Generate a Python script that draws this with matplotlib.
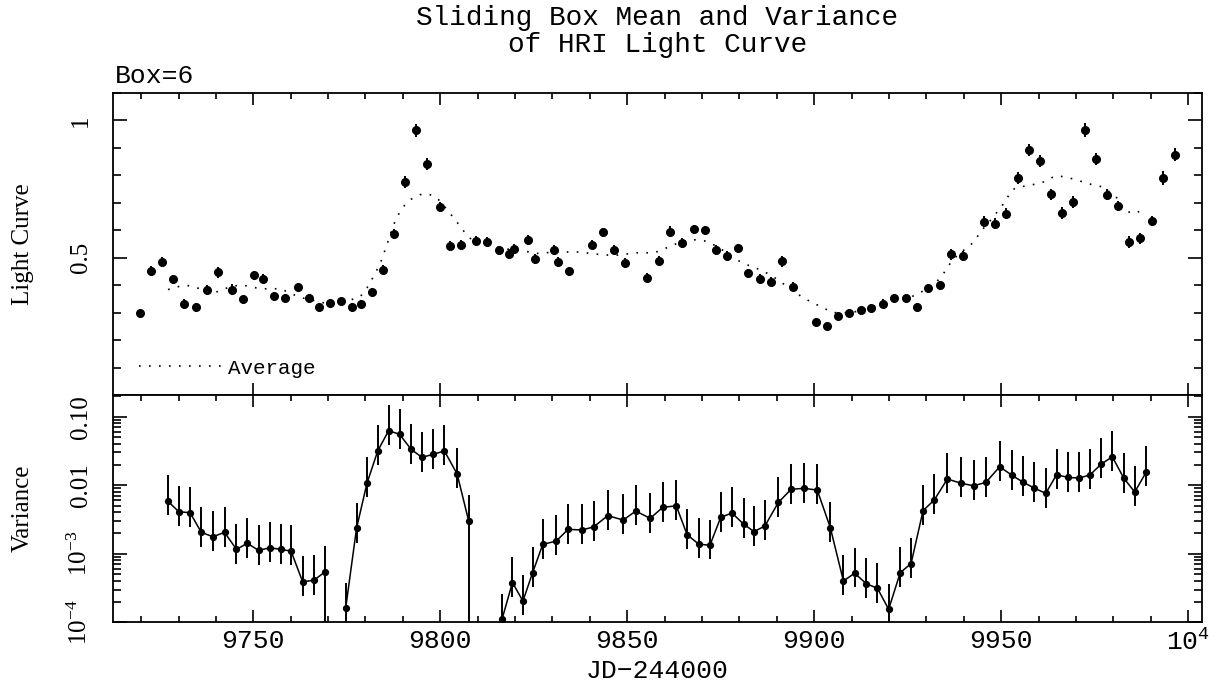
import numpy as np
import matplotlib
matplotlib.use("Agg")
import matplotlib.pyplot as plt
from matplotlib.ticker import MultipleLocator, FixedLocator, LogLocator, NullFormatter
from matplotlib.lines import Line2D

# light curve
lc_jd = [9719.7, 9722.7, 9725.5, 9728.5, 9731.6, 9734.6, 9737.5, 9740.5, 9744.3, 9747.3,
         9750.2, 9752.6, 9755.5, 9758.4, 9761.9, 9764.8, 9767.5, 9770.4, 9773.5, 9776.5,
         9778.8, 9781.8, 9784.6, 9787.7, 9790.7, 9793.5, 9796.4, 9799.8, 9802.7, 9805.5,
         9809.5, 9812.4,
         9815.6, 9818.5, 9819.8, 9823.5, 9825.4, 9830.4, 9831.4, 9834.4, 9840.5, 9843.4,
         9846.4, 9849.5, 9855.4, 9858.5, 9861.4, 9864.6, 9867.8, 9870.7, 9873.7, 9876.6,
         9879.5, 9882.4, 9885.4, 9888.4, 9891.4, 9894.3, 9900.4, 9903.3, 9906.3, 9909.3,
         9912.4, 9915.3, 9918.3, 9921.3, 9924.6, 9927.5, 9930.5, 9933.6, 9936.7, 9939.8,
         9945.4, 9948.3, 9951.4, 9954.4, 9957.4, 9960.4, 9963.4, 9966.3, 9969.3, 9972.3,
         9975.3, 9978.2, 9981.2, 9984.3, 9987.2, 9990.3, 9993.3, 9996.4]
lc_rate = [0.300, 0.453, 0.485, 0.421, 0.332, 0.320, 0.381, 0.447, 0.384, 0.348,
           0.436, 0.424, 0.360, 0.353, 0.394, 0.352, 0.320, 0.336, 0.341, 0.321,
           0.333, 0.375, 0.457, 0.588, 0.776, 0.964, 0.843, 0.685, 0.544, 0.548,
           0.560, 0.558,
           0.527, 0.514, 0.533, 0.566, 0.496, 0.529, 0.484, 0.451, 0.548, 0.593,
           0.529, 0.481, 0.428, 0.487, 0.594, 0.555, 0.604, 0.601, 0.529, 0.507,
           0.535, 0.445, 0.423, 0.413, 0.487, 0.395, 0.265, 0.253, 0.287, 0.300,
           0.308, 0.316, 0.333, 0.353, 0.352, 0.320, 0.389, 0.399, 0.512, 0.507,
           0.632, 0.624, 0.660, 0.790, 0.892, 0.853, 0.732, 0.662, 0.703, 0.965,
           0.861, 0.730, 0.689, 0.558, 0.571, 0.635, 0.790, 0.876]
lc_err = [0.012, 0.018, 0.018, 0.017, 0.016, 0.016, 0.018, 0.020, 0.020, 0.014,
          0.016, 0.016, 0.016, 0.016, 0.014, 0.015, 0.014, 0.015, 0.013, 0.015,
          0.014, 0.015, 0.018, 0.018, 0.022, 0.024, 0.022, 0.018, 0.018, 0.018,
          0.018, 0.016,
          0.016, 0.018, 0.018, 0.018, 0.018, 0.018, 0.018, 0.017, 0.016, 0.016,
          0.016, 0.018, 0.016, 0.018, 0.020, 0.017, 0.016, 0.016, 0.016, 0.018,
          0.016, 0.014, 0.018, 0.016, 0.020, 0.016, 0.014, 0.014, 0.014, 0.014,
          0.014, 0.014, 0.016, 0.016, 0.016, 0.016, 0.016, 0.018, 0.020, 0.018,
          0.020, 0.020, 0.020, 0.022, 0.022, 0.022, 0.020, 0.022, 0.022, 0.024,
          0.022, 0.020, 0.018, 0.022, 0.020, 0.018, 0.026, 0.022]

# sliding box (6) average, dotted curve
avg_jd = [9727.2, 9730.0, 9732.4, 9735.0, 9739.5, 9743.0, 9746.6, 9751.9, 9757.3, 9761.7,
          9764.5, 9767.1, 9769.8, 9774.2, 9778.6, 9780.4, 9782.2, 9784.0, 9785.8, 9787.5,
          9789.1, 9790.2, 9792.0, 9794.7, 9796.4, 9798.2, 9800.0, 9801.8, 9803.6, 9805.3,
          9807.1, 9808.9, 9810.7, 9812.5,
          9814.2, 9817.4, 9822.2, 9825.4, 9827.6, 9832.0, 9837.4, 9840.9, 9846.3, 9848.9,
          9852.5, 9856.9, 9859.0, 9861.4, 9864.9, 9868.5, 9871.2, 9873.9, 9876.6, 9879.2,
          9881.9, 9885.4, 9888.1, 9890.8, 9894.3, 9897.9, 9901.4, 9905.0, 9908.6, 9912.1,
          9914.8, 9919.2, 9921.9, 9924.6, 9928.1, 9931.7, 9934.4, 9937.0, 9940.2, 9942.4,
          9945.0, 9947.7, 9950.4, 9953.0, 9954.8, 9957.5, 9961.1, 9964.6, 9967.3, 9970.0,
          9973.5, 9977.1, 9980.6, 9983.3, 9986.0, 9988.2]
avg_rate = [0.384, 0.395, 0.399, 0.390, 0.372, 0.390, 0.402, 0.387, 0.387, 0.360,
            0.348, 0.342, 0.332, 0.338, 0.358, 0.390, 0.433, 0.481, 0.550, 0.620,
            0.665, 0.687, 0.712, 0.730, 0.733, 0.726, 0.706, 0.675, 0.645, 0.615,
            0.582, 0.560, 0.548, 0.542,
            0.542, 0.532, 0.526, 0.515, 0.518, 0.521, 0.521, 0.514, 0.508, 0.512,
            0.518, 0.518, 0.526, 0.542, 0.560, 0.566, 0.560, 0.542, 0.518, 0.493,
            0.475, 0.457, 0.439, 0.415, 0.378, 0.348, 0.324, 0.300, 0.300, 0.305,
            0.318, 0.336, 0.342, 0.348, 0.372, 0.396, 0.439, 0.493, 0.530, 0.554,
            0.603, 0.645, 0.693, 0.748, 0.758, 0.763, 0.775, 0.799, 0.794, 0.784,
            0.769, 0.758, 0.724, 0.669, 0.661, 0.681]

# sliding box variance
var_jd = [9727.1, 9730.1, 9733.1, 9736.1, 9739.2, 9742.3, 9745.5, 9748.4, 9751.4, 9754.4,
          9757.3, 9760.1, 9763.2, 9766.2, 9769.1, 9774.7, 9777.6, 9780.4, 9783.3, 9786.2,
          9789.1, 9792.2, 9795.1, 9798.1, 9801.1, 9804.5, 9807.6,
          9816.5, 9819.3, 9822.1, 9824.7, 9827.4, 9831.0, 9834.2, 9837.8, 9841.0, 9844.8,
          9848.9, 9852.3, 9856.1, 9859.5, 9863.1, 9866.0, 9869.1, 9872.1, 9875.0, 9878.0,
          9881.1, 9883.9, 9886.8, 9890.4, 9893.8, 9897.2, 9900.8, 9904.3, 9907.8, 9910.8,
          9913.9, 9916.9, 9919.9, 9923.0, 9925.9, 9929.1, 9932.1, 9935.6, 9939.2, 9942.6,
          9945.9, 9949.6, 9952.9, 9955.8, 9958.8, 9961.9, 9964.8, 9967.8, 9970.8, 9973.7,
          9976.8, 9979.7, 9982.8, 9985.7, 9988.8]
var = [5.87e-3, 4.1e-3, 3.97e-3, 2.05e-3, 1.77e-3, 2.05e-3, 1.16e-3, 1.42e-3, 1.12e-3, 1.22e-3,
       1.16e-3, 1.09e-3, 3.9e-4, 4.1e-4, 5.4e-4, 1.6e-4, 2.34e-3, 1.07e-2, 3.19e-2, 6.25e-2,
       5.53e-2, 3.34e-2, 2.55e-2, 2.82e-2, 3.16e-2, 1.46e-2, 3.0e-3,
       1.1e-4, 3.8e-4, 2.04e-4, 5.3e-4, 1.37e-3, 1.53e-3, 2.27e-3, 2.22e-3, 2.46e-3, 3.6e-3,
       3.1e-3, 4.2e-3, 3.28e-3, 4.75e-3, 5.0e-3, 1.9e-3, 1.38e-3, 1.33e-3, 3.4e-3, 3.93e-3,
       2.71e-3, 2.1e-3, 2.54e-3, 5.6e-3, 8.7e-3, 9.0e-3, 8.5e-3, 2.4e-3, 4.0e-4, 5.2e-4,
       3.66e-4, 3.13e-4, 1.55e-4, 5.3e-4, 7.2e-4, 4.25e-3, 6.1e-3, 1.23e-2, 1.07e-2, 9.8e-3,
       1.1e-2, 1.86e-2, 1.39e-2, 1.11e-2, 9.1e-3, 7.6e-3, 1.42e-2, 1.3e-2, 1.27e-2, 1.41e-2,
       2.04e-2, 2.6e-2, 1.26e-2, 7.96e-3, 1.56e-2]
var_up_factor = 2.37     # error bars span a fixed width in log space
var_dn_factor = 0.62
var_open_low = [9769.1, 9807.6]   # lower bar runs off the bottom
gap_days = 5.0

MONO = "Liberation Mono"
SERIF = "Liberation Serif"

fig, (ax1, ax2) = plt.subplots(2, 1, sharex=True, figsize=(12.17, 6.83), dpi=100,
                               gridspec_kw={"height_ratios": [302, 227.3], "hspace": 0})
fig.subplots_adjust(left=0.0929, right=0.9874, top=0.8638, bottom=0.0889)

# top panel
ax1.errorbar(lc_jd, lc_rate, yerr=lc_err, fmt="o", color="black", ms=5.5,
             elinewidth=1.4, capsize=0)
ax1.plot(avg_jd, avg_rate, color="black", lw=1.2, ls=(0, (1, 5)))
ax1.set_ylim(0, 1.1)
ax1.yaxis.set_major_locator(FixedLocator([0.5, 1.0]))
ax1.yaxis.set_minor_locator(MultipleLocator(0.1))
ax1.set_yticklabels(["0.5", "1"], rotation=90, va="center", family=SERIF, fontsize=18)
ax1.set_ylabel("Light Curve", family=SERIF, fontsize=18)
ax1.yaxis.set_label_coords(-0.073, 0.5)
handle = Line2D([], [], color="black", lw=1.2, ls=(0, (1, 5)))
ax1.legend([handle], ["Average"], loc="center left", bbox_to_anchor=(0.024, 0.089),
           frameon=False, borderpad=0, borderaxespad=0, handlelength=4.1,
           handletextpad=0.15, prop={"family": MONO, "size": 15})

# bottom panel
jd = np.array(var_jd)
v = np.array(var)
lo = v - v * var_dn_factor
hi = v * var_up_factor - v
for d in var_open_low:
    k = np.argmin(np.abs(jd - d))
    lo[k] = v[k]
ax2.errorbar(jd, v, yerr=[lo, hi], fmt="none", ecolor="black", elinewidth=1.4, capsize=0)
splits = np.where(np.diff(jd) > gap_days)[0] + 1
for sj, sv in zip(np.split(jd, splits), np.split(v, splits)):
    ax2.plot(sj, sv, color="black", lw=1.1, marker="o", ms=4.2)
ax2.set_yscale("log", nonpositive="clip")
ax2.set_ylim(1e-4, 0.207)
ax2.yaxis.set_major_locator(FixedLocator([1e-4, 1e-3, 1e-2, 1e-1]))
ax2.yaxis.set_minor_locator(LogLocator(base=10, subs=np.arange(2, 10)))
ax2.yaxis.set_minor_formatter(NullFormatter())
ax2.set_yticklabels([r"$\mathregular{10^{-4}}$", r"$\mathregular{10^{-3}}$", "0.01", "0.10"],
                    rotation=90, va="center", family=SERIF, fontsize=18)
ax2.set_ylabel("Variance", family=SERIF, fontsize=18)
ax2.yaxis.set_label_coords(-0.073, 0.5)

ax2.set_xlim(9712.5, 10003.6)
ax2.xaxis.set_major_locator(FixedLocator([9750, 9800, 9850, 9900, 9950, 10000]))
ax2.xaxis.set_minor_locator(MultipleLocator(10))
ax2.set_xticklabels(["9750", "9800", "9850", "9900", "9950", r"$\mathregular{10^4}$"],
                    family=MONO, fontsize=19)
ax2.set_xlabel("JD\u2212244000", family=MONO, fontsize=19, labelpad=3)

for ax in (ax1, ax2):
    ax.tick_params(which="both", direction="in", top=True, right=True, width=1.2)
    ax.tick_params(axis="y", which="major", length=10, pad=15)
    ax.tick_params(axis="y", which="minor", length=6)
    ax.tick_params(axis="x", which="major", length=8.5, pad=5)
    ax.tick_params(axis="x", which="minor", length=4.5)
    for s in ax.spines.values():
        s.set_linewidth(1.3)
ax1.tick_params(axis="x", which="minor", bottom=False)

fig.text(0.54, 0.974, "Sliding Box Mean and Variance", ha="center", va="center",
         family=MONO, fontsize=20)
fig.text(0.54, 0.934, "of HRI Light Curve", ha="center", va="center",
         family=MONO, fontsize=20)
fig.text(0.0945, 0.889, "Box=6", ha="left", va="center", family=MONO, fontsize=19)

fig.savefig("out.png", dpi=100)
